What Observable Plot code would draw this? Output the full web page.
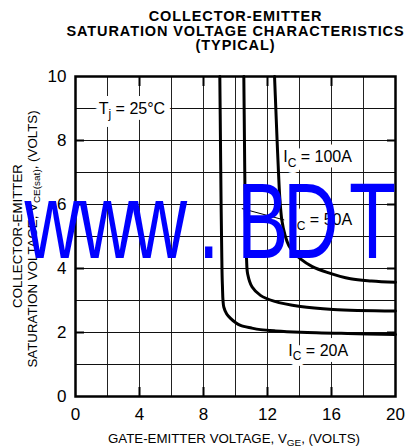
<!DOCTYPE html>
<html>
<head>
<meta charset="utf-8">
<script src="https://cdn.jsdelivr.net/npm/d3@7"></script>
<script src="https://cdn.jsdelivr.net/npm/@observablehq/plot@0.6"></script>
<style>
  body { margin: 0; background: #fff; font-family: "Liberation Sans", Arial, sans-serif; }
  #title { height: 52px; padding-top: 9px; box-sizing: border-box; font-weight: bold; font-size: 14.5px; line-height: 14.5px; letter-spacing: 0.9px; color: #000; }
  #title div { position: relative; left: 32px; width: 407px; text-align: center; white-space: nowrap; }
  svg { display: block; }
</style>
</head>
<body>
<div id="title"><div>COLLECTOR-EMITTER</div><div>SATURATION VOLTAGE CHARACTERISTICS</div><div>(TYPICAL)</div></div>
<div id="chart"></div>
<script>
// ---- data ----
const xTicks = [0, 4, 8, 12, 16, 20];
const yTicks = [0, 2, 4, 6, 8, 10];
const xGrid = [2, 4, 6, 8, 10, 12, 14, 16, 18];
const yGrid = [1, 2, 3, 4, 5, 6, 7, 8, 9];

const vge20 = [9.02, 9.06, 9.1, 9.14, 9.18, 9.27, 9.45, 9.69, 10.0, 10.31, 11.0, 11.56, 12.5, 14.06, 17, 20];
const vce20 = [10, 8, 6, 4.5, 3.5, 2.79, 2.58, 2.44, 2.31, 2.22, 2.14, 2.09, 2.05, 2.01, 1.97, 1.94];
const vge50 = [10.52, 10.56, 10.6, 10.64, 10.69, 10.76, 11.04, 11.56, 12.4, 14.06, 16.1, 20];
const vce50 = [10, 8, 6, 5, 4.3, 3.83, 3.42, 3.16, 2.98, 2.81, 2.72, 2.67];
const vge100 = [12.44, 12.52, 12.6, 12.67, 12.77, 12.9, 13.1, 13.33, 13.65, 14.06, 14.8, 15.73, 17.19, 18.5, 20];
const vce100 = [10, 9, 8, 7.2, 6.2, 5.5, 5.03, 4.72, 4.5, 4.3, 4.06, 3.88, 3.68, 3.61, 3.57];
const seriesNames = ["20A", "50A", "100A"];

const labelText = ["T_[j] = 25°C", "I_[C] = 100A", "I_[C] = 50A", "I_[C] = 20A"];
const labelX = [1.45, 12.98, 13.55, 13.3];
const labelY = [9, 7.48, 5.52, 1.44];
const leaderX = [10.42, 13.02];
const leaderY = [5.87, 5.52];

// ---- tables ----
const curves = [];
[[vge20, vce20], [vge50, vce50], [vge100, vce100]].forEach(([xs, ys], k) => {
  xs.forEach((x, i) => curves.push({ic: seriesNames[k], vge: x, vce: ys[i]}));
});
const labels = labelText.map((t, i) => ({t, x: labelX[i], y: labelY[i]}));
const leader = leaderX.map((x, i) => ({x, y: leaderY[i]}));

const FONT = "Liberation Sans, Arial, sans-serif";
const LFS = 16;
const inward = {strokeWidth: 2, text: null, label: null, tickSize: -9};

const plot = Plot.plot({
  width: 407, height: 396,
  marginLeft: 75, marginRight: 12, marginTop: 24, marginBottom: 52,
  x: {domain: [0, 20]},
  y: {domain: [0, 10]},
  style: {fontFamily: FONT, background: "white", color: "black", overflow: "visible"},
  marks: [
    Plot.gridX(xGrid, {stroke: "#222", strokeOpacity: 1, strokeWidth: 1}),
    Plot.gridY(yGrid, {stroke: "#111", strokeOpacity: 1, strokeWidth: 1}),
    Plot.axisX({ticks: xTicks, tickSize: 0, tickPadding: 11, fontSize: 17, label: null}),
    Plot.axisY({ticks: yTicks, tickSize: 0, tickPadding: 9, fontSize: 17, label: null}),
    Plot.axisX({...inward, ticks: xTicks.slice(1, -1), anchor: "bottom"}),
    Plot.axisX({...inward, ticks: xTicks.slice(1, -1), anchor: "top"}),
    Plot.axisY({...inward, ticks: yTicks.slice(1, -1), anchor: "left"}),
    Plot.axisY({...inward, ticks: yTicks.slice(1, -1), anchor: "right"}),
    Plot.text(labels, {x: "x", y: "y", text: "t", textAnchor: "start", fontSize: LFS, fill: "white", stroke: "white", strokeWidth: 12, className: "rich"}),
    Plot.text(labels, {x: "x", y: "y", text: "t", textAnchor: "start", fontSize: LFS, fill: "black", className: "rich"}),
    Plot.line(leader, {x: "x", y: "y", stroke: "black", strokeWidth: 1}),
    Plot.line(curves, {x: "vge", y: "vce", z: "ic", curve: "catmull-rom", stroke: "black", strokeWidth: 3}),
    Plot.frame({stroke: "black", strokeWidth: 2.5})
  ]
});
document.getElementById("chart").appendChild(plot);

const svgns = "http://www.w3.org/2000/svg";
function rich(el, s, fs) {
  el.textContent = "";
  const parts = s.split(/_\[([^\]]*)\]/);
  let shifted = false;
  parts.forEach((p, i) => {
    if (!p) return;
    const ts = document.createElementNS(svgns, "tspan");
    ts.textContent = p;
    if (i % 2) { ts.setAttribute("font-size", fs * 0.75); ts.setAttribute("dy", fs * 0.3); shifted = true; }
    else if (shifted) { ts.setAttribute("dy", -fs * 0.3); shifted = false; }
    el.appendChild(ts);
  });
}
d3.select(plot).selectAll(".rich text").each(function() { rich(this, this.textContent, LFS); });

const svg = d3.select(plot);
function addText(str, x, y, fs, rotate) {
  const t = svg.append("text")
    .attr("transform", `translate(${x},${y})` + (rotate ? " rotate(-90)" : ""))
    .attr("text-anchor", "middle").attr("dominant-baseline", "central")
    .attr("font-family", FONT).attr("font-size", fs).attr("fill", "black");
  rich(t.node(), str, fs);
}
addText("COLLECTOR-EMITTER", 17, 184, 13.3, true);
addText("SATURATION VOLTAGE, V_[CE(sat)], (VOLTS)", 31.7, 187, 13.3, true);
addText("GATE-EMITTER VOLTAGE, V_[GE], (VOLTS)", 234, 386, 13.3, false);

// watermark
const wmChars = "www.BDT";
const wmX = [24.5, 79.5, 131.5, 198, 237, 283, 349];
const sx = 0.72;
svg.append("text")
  .attr("transform", `translate(0,206) scale(${sx},1)`)
  .attr("x", wmX.map(v => v / sx).join(" "))
  .attr("y", 0)
  .attr("text-anchor", "start")
  .attr("font-family", FONT).attr("font-size", 107).attr("fill", "#0000ff")
  .text(wmChars);
</script>
</body>
</html>
